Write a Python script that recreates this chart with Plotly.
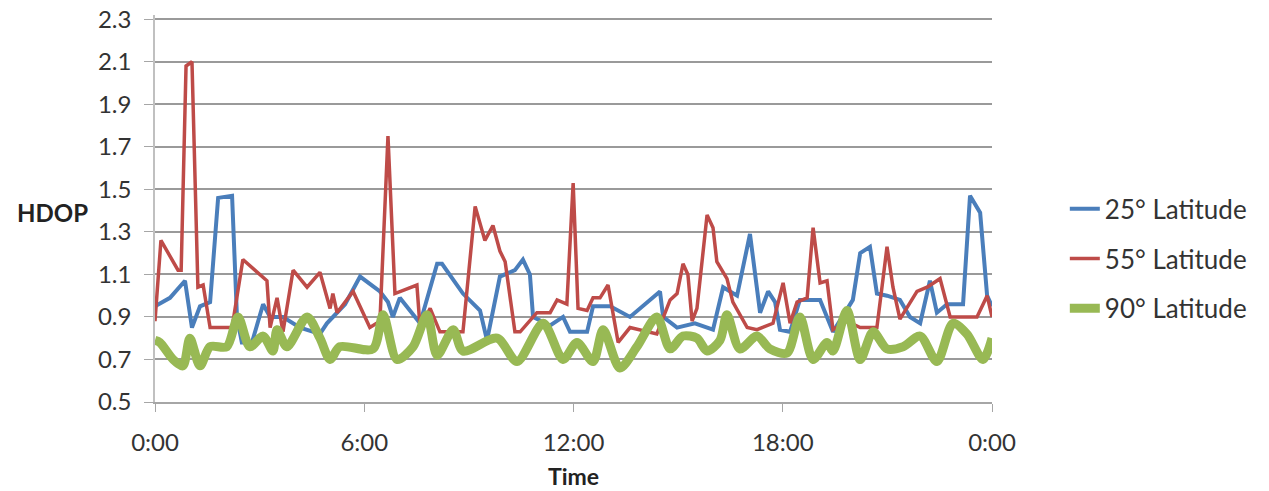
import plotly.graph_objects as go

# Time in hours since 0:00
t_25 = [0, 0.43, 0.86, 1.06, 1.29, 1.58, 1.81, 2.21, 2.35, 2.49, 2.78, 3.1, 3.3, 3.67, 4.16, 4.73, 4.93,
        5.45, 5.88, 6.45, 6.68, 6.82, 7.02, 7.6, 8.09, 8.23, 8.83, 9.32, 9.52, 9.89, 10.32, 10.55, 10.75,
        10.84, 11.33, 11.7, 11.9, 12.39, 12.56, 13.05, 13.62, 14.48, 14.57, 14.97, 15.48, 16.0, 16.29,
        16.69, 17.06, 17.35, 17.58, 17.78, 17.92, 18.21, 18.49, 19.07, 19.44, 20.01, 20.22, 20.5, 20.7,
        20.99, 21.36, 21.65, 21.94, 22.22, 22.42, 22.71, 23.17, 23.37, 23.66, 23.86, 24]
hdop_25 = [0.95, 0.99, 1.07, 0.85, 0.95, 0.97, 1.46, 1.47, 0.9, 0.78, 0.78, 0.96, 0.9, 0.9, 0.85, 0.82, 0.87,
           0.96, 1.09, 1.02, 0.97, 0.9, 0.99, 0.87, 1.15, 1.15, 1.01, 0.93, 0.79, 1.09, 1.12, 1.17, 1.1,
           0.9, 0.86, 0.9, 0.83, 0.83, 0.95, 0.95, 0.9, 1.02, 0.9, 0.85, 0.87, 0.84, 1.04,
           1.0, 1.29, 0.92, 1.02, 0.97, 0.84, 0.83, 0.98, 0.98, 0.83, 0.98, 1.2, 1.23, 1.01,
           1.0, 0.98, 0.9, 0.87, 1.07, 0.92, 0.96, 0.96, 1.47, 1.39, 1.0, 0.95]

t_55 = [0, 0.17, 0.66, 0.75, 0.89, 1.06, 1.23, 1.38, 1.58, 2.21, 2.52, 3.01, 3.21, 3.3, 3.5, 3.67, 3.96,
        4.36, 4.73, 5.02, 5.1, 5.22, 5.68, 6.16, 6.45, 6.68, 6.88, 7.51, 7.6, 7.89, 8.17, 8.83, 9.18, 9.46,
        9.69, 9.89, 10.04, 10.32, 10.47, 10.95, 11.33, 11.53, 11.81, 11.99, 12.13, 12.39, 12.56, 12.76,
        12.99, 13.28, 13.62, 14.39, 14.77, 14.97, 15.14, 15.28, 15.4, 15.54, 15.83, 16.0, 16.11, 16.4,
        16.57, 16.98, 17.26, 17.72, 18.01, 18.21, 18.41, 18.7, 18.87, 19.07, 19.27, 19.44, 19.84, 20.22,
        20.7, 20.99, 21.16, 21.36, 21.85, 22.14, 22.51, 22.8, 23.57, 23.86, 24]
hdop_55 = [0.88, 1.26, 1.12, 1.12, 2.08, 2.1, 1.04, 1.05, 0.85, 0.85, 1.17, 1.1, 1.07, 0.85, 0.99, 0.83, 1.12,
           1.04, 1.11, 0.94, 1.01, 0.92, 1.02, 0.85, 0.88, 1.75, 1.01, 1.05, 0.85, 0.94, 0.83, 0.83, 1.42, 1.26,
           1.33, 1.21, 1.16, 0.83, 0.83, 0.92, 0.92, 0.98, 0.96, 1.53, 0.94, 0.93, 0.99, 0.99,
           1.05, 0.78, 0.85, 0.82, 0.98, 1.01, 1.15, 1.1, 0.88, 0.94, 1.38, 1.32, 1.16, 1.08,
           0.97, 0.85, 0.84, 0.87, 1.06, 0.87, 0.97, 0.99, 1.32, 1.06, 1.07, 0.84, 0.88, 0.85,
           0.85, 1.23, 1.04, 0.89, 1.02, 1.04, 1.08, 0.9, 0.9, 1.0, 0.9]

t_90 = [0, 0.14, 0.52, 0.8, 1.0, 1.29, 1.58, 2.06, 2.38, 2.72, 3.1, 3.38, 3.5, 3.78, 4.36, 4.73, 5.02, 5.3,
        6.25, 6.54, 6.94, 7.4, 7.8, 8.09, 8.55, 8.83, 9.81, 10.38, 11.13, 11.7, 12.1, 12.56, 12.85, 13.33,
        13.82, 14.39, 14.77, 15.14, 15.54, 15.83, 16.2, 16.4, 16.77, 17.26, 17.63, 18.12, 18.49, 18.87,
        19.27, 19.44, 19.84, 20.22, 20.59, 20.99, 21.45, 21.94, 22.42, 22.88, 23.28, 23.74, 24]
hdop_90 = [0.79, 0.78, 0.7, 0.67, 0.8, 0.67, 0.76, 0.76, 0.9, 0.76, 0.81, 0.74, 0.84, 0.76, 0.9, 0.8, 0.7, 0.76,
           0.75, 0.91, 0.7, 0.76, 0.91, 0.72, 0.84, 0.74, 0.8, 0.69, 0.87, 0.7, 0.78, 0.69, 0.84, 0.66,
           0.76, 0.9, 0.75, 0.81, 0.8, 0.74, 0.79, 0.91, 0.75, 0.81, 0.75, 0.73, 0.9, 0.7,
           0.78, 0.74, 0.93, 0.7, 0.83, 0.75, 0.76, 0.81, 0.69, 0.87, 0.82, 0.7, 0.8]

x_tick_vals = [0, 6, 12, 18, 24]
x_tick_text = ["0:00", "6:00", "12:00", "18:00", "0:00"]
y_tick_vals = [0.5, 0.7, 0.9, 1.1, 1.3, 1.5, 1.7, 1.9, 2.1, 2.3]
y_tick_text = ["0.5", "0.7", "0.9", "1.1", "1.3", "1.5", "1.7", "1.9", "2.1", "2.3"]

FONT = "Lato"
fig = go.Figure()
fig.add_trace(go.Scatter(x=t_25, y=hdop_25, mode="lines", name="25° Latitude", legendgroup="a",
                         line=dict(color="#4a7ebb", width=4)))
fig.add_trace(go.Scatter(x=t_55, y=hdop_55, mode="lines", name="55° Latitude", legendgroup="b",
                         line=dict(color="#be4b48", width=3.5)))
fig.add_trace(go.Scatter(x=t_90, y=hdop_90, mode="lines", name="90° Latitude", legendgroup="c",
                         line=dict(color="#98b954", width=9, shape="spline", smoothing=0.8)))

fig.update_layout(
    width=1269, height=491,
    margin=dict(l=155, r=277, t=15, b=89),
    paper_bgcolor="white", plot_bgcolor="white",
    font=dict(family=FONT, size=24, color="#333333"),
    showlegend=True,
    legend=dict(x=1.087, y=0.56, xanchor="left", yanchor="top", tracegroupgap=13,
                font=dict(family=FONT, size=26, color="#333333"), bgcolor="rgba(0,0,0,0)"),
    xaxis=dict(range=[0, 24], tickvals=x_tick_vals, ticktext=x_tick_text, showgrid=False,
               showline=True, linecolor="#a6a6a6", linewidth=1.5, ticks="outside", ticklen=8,
               tickcolor="#a6a6a6", ticklabelstandoff=10, zeroline=False, ticklabeloverflow="allow",
               automargin=False, tickfont=dict(family=FONT, size=24, color="#333333")),
    yaxis=dict(range=[0.5, 2.32], tickvals=y_tick_vals, ticktext=y_tick_text, showgrid=True,
               gridcolor="#9a9a9a", gridwidth=1.5, showline=True, linecolor="#c0c0c0", linewidth=1.5,
               ticks="outside", ticklen=9, tickcolor="#a6a6a6", ticklabelstandoff=8, zeroline=False,
               ticklabeloverflow="allow", automargin=False,
               tickfont=dict(family=FONT, size=24, color="#333333")),
    annotations=[
        dict(text="<b>HDOP</b>", xref="paper", yref="y", x=-0.167, y=1.39, xanchor="left",
             yanchor="middle", showarrow=False, font=dict(family=FONT, size=24, color="#222222")),
        dict(text="<b>Time</b>", xref="paper", yref="paper", x=0.5, y=-0.19, xanchor="center",
             yanchor="middle", showarrow=False, font=dict(family=FONT, size=23, color="#222222")),
    ],
)

# remove the default page margin so the figure fills the window exactly
fig.write_html("out.html", config={"displayModeBar": False},
               post_script="document.body.style.margin='0';document.body.style.overflow='hidden';")
